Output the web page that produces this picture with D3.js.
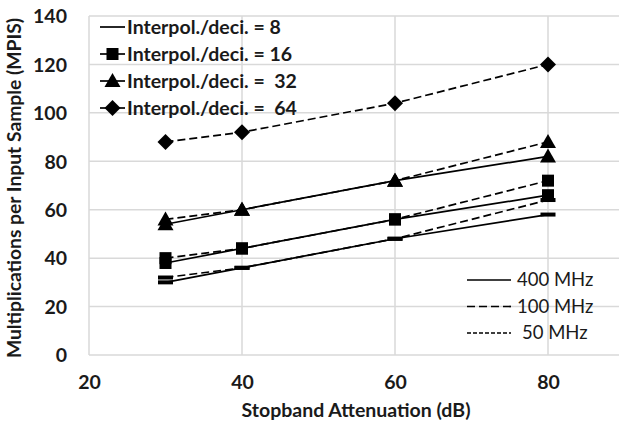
<!DOCTYPE html>
<html>
<head>
<meta charset="utf-8">
<script src="https://cdn.jsdelivr.net/npm/d3@7"></script>
<style>
  html, body { margin: 0; padding: 0; background: #fff; }
  svg { display: block; }
  text { font-family: Lato, "Open Sans", sans-serif; font-weight: bold; fill: #1a1a1a; white-space: pre; }
</style>
</head>
<body>
<div id="chart"></div>
<script>

// Stopband attenuation (dB) on the x axis.
var atten = [30, 40, 60, 80];

// Multiplications per input sample, one array per ratio / clock.
var mpis8At400 = [30, 36, 48, 58];
var mpis8At100 = [32, 36, 48, 64];
var mpis16At400 = [38, 44, 56, 66];
var mpis16At100 = [40, 44, 56, 72];
var mpis32At400 = [54, 60, 72, 82];
var mpis32At100 = [56, 60, 72, 88];
var mpis64At100 = [88, 92, 104, 120];

var xTicks = [20, 40, 60, 80];
var yTicks = [0, 20, 40, 60, 80, 100, 120, 140];

var ratioLabels = [
  'Interpol./deci. = 8',
  'Interpol./deci. = 16',
  'Interpol./deci. =  32',
  'Interpol./deci. =  64'
];
var clockLabels = ['400 MHz', '100 MHz', '50 MHz'];

var W = 619, H = 429;
var dashes = { 400: null, 100: '8,4', 50: '4,2' };

var series = [
  { values: mpis8At400, marker: 'bar', clock: 400 },
  { values: mpis8At100, marker: 'bar', clock: 100 },
  { values: mpis16At400, marker: 'square', clock: 400 },
  { values: mpis16At100, marker: 'square', clock: 100 },
  { values: mpis32At400, marker: 'triangle', clock: 400 },
  { values: mpis32At100, marker: 'triangle', clock: 100 },
  { values: mpis64At100, marker: 'diamond', clock: 100 }
];

var svg = d3.select('#chart').append('svg')
  .attr('width', W).attr('height', H);

var x = d3.scaleLinear().domain([20, 100]).range([89, 701]);
var y = d3.scaleLinear().domain([0, 140]).range([355, 16]);


/**
 * Draw one marker shape centred on (cx, cy).
 */
function marker(g, kind, cx, cy) {
  if (kind === 'bar') {
    g.append('rect').attr('x', cx - 7.5).attr('y', cy - 2)
      .attr('width', 15).attr('height', 4).attr('fill', '#000');
  } else if (kind === 'square') {
    g.append('rect').attr('x', cx - 6).attr('y', cy - 6)
      .attr('width', 12).attr('height', 12).attr('fill', '#000');
  } else if (kind === 'triangle') {
    g.append('path').attr('fill', '#000')
      .attr('d', 'M' + cx + ',' + (cy - 8) + 'L' + (cx + 8) + ',' + (cy + 6) +
        'L' + (cx - 8) + ',' + (cy + 6) + 'Z');
  } else {
    g.append('path').attr('fill', '#000')
      .attr('d', 'M' + cx + ',' + (cy - 8) + 'L' + (cx + 8) + ',' + cy +
        'L' + cx + ',' + (cy + 8) + 'L' + (cx - 8) + ',' + cy + 'Z');
  }
}

// Gridlines.
var grid = svg.append('g').attr('stroke', '#d9d9d9').attr('stroke-width', 1.5);
grid.selectAll('.gy').data(yTicks).enter().append('line')
  .attr('x1', x(20)).attr('x2', W)
  .attr('y1', function(d) { return y(d); })
  .attr('y2', function(d) { return y(d); });
grid.selectAll('.gx').data(xTicks).enter().append('line')
  .attr('x1', function(d) { return x(d); })
  .attr('x2', function(d) { return x(d); })
  .attr('y1', y(0)).attr('y2', y(140));

// Axes, text only.
var yAxis = svg.append('g').attr('transform', 'translate(' + 67 + ',0)')
  .call(d3.axisLeft(y).tickValues(yTicks).tickSize(0).tickPadding(0));
var xAxis = svg.append('g').attr('transform', 'translate(0,' + 374 + ')')
  .call(d3.axisBottom(x).tickValues(xTicks).tickSize(0).tickPadding(0));
[yAxis, xAxis].forEach(function(a) {
  a.select('.domain').remove();
  a.selectAll('text').style('font-size', '19.5px')
    .style('font-family', 'Lato, sans-serif').attr('fill', '#1a1a1a');
});
yAxis.selectAll('text').attr('dy', '0.35em');
xAxis.selectAll('text').attr('dy', '0.75em');

// Axis titles.
svg.append('text').attr('x', 356).attr('y', 417)
  .attr('text-anchor', 'middle').style('font-size', '19.5px')
  .text('Stopband Attenuation (dB)');
svg.append('text')
  .attr('transform', 'translate(21,188) rotate(-90)')
  .attr('text-anchor', 'middle').style('font-size', '19.3px')
  .text('Multiplications per Input Sample (MPIS)');

// Series lines and markers.
var line = d3.line()
  .x(function(d, i) { return x(atten[i]); })
  .y(function(d) { return y(d); });

var plot = svg.append('g');
series.forEach(function(s) {
  plot.append('path').datum(s.values)
    .attr('d', line).attr('fill', 'none').attr('stroke', '#000')
    .attr('stroke-width', 1.7)
    .attr('stroke-dasharray', dashes[s.clock]);
});
series.forEach(function(s) {
  s.values.forEach(function(v, i) {
    marker(plot, s.marker, x(atten[i]), y(v));
  });
});

// Legend for the ratios.
var kinds = ['bar', 'square', 'triangle', 'diamond'];
var leg = svg.append('g');
ratioLabels.forEach(function(label, i) {
  var ly = 27 + i * 27;
  leg.append('line').attr('x1', 100).attr('x2', 125)
    .attr('y1', ly).attr('y2', ly)
    .attr('stroke', '#000').attr('stroke-width', 1.7);
  if (i > 0) marker(leg, kinds[i], 112.5, ly);
  leg.append('text').attr('x', 127).attr('y', ly).attr('dy', '0.35em')
    .style('font-size', '19.5px').text(label);
});

// Legend for the clocks.
clockLabels.forEach(function(label, i) {
  var ly = 280 + i * 26.5;
  var clk = parseInt(label, 10);
  leg.append('line').attr('x1', 467).attr('x2', 511)
    .attr('y1', ly).attr('y2', ly)
    .attr('stroke', '#000').attr('stroke-width', 1.7)
    .attr('stroke-dasharray', dashes[clk]);
  leg.append('text').attr('x', clk === 50 ? 522 : 517).attr('y', ly)
    .attr('dy', '0.35em').style('font-size', '18.5px')
    .style('font-weight', 'normal').text(label);
});

</script>
</body>
</html>
